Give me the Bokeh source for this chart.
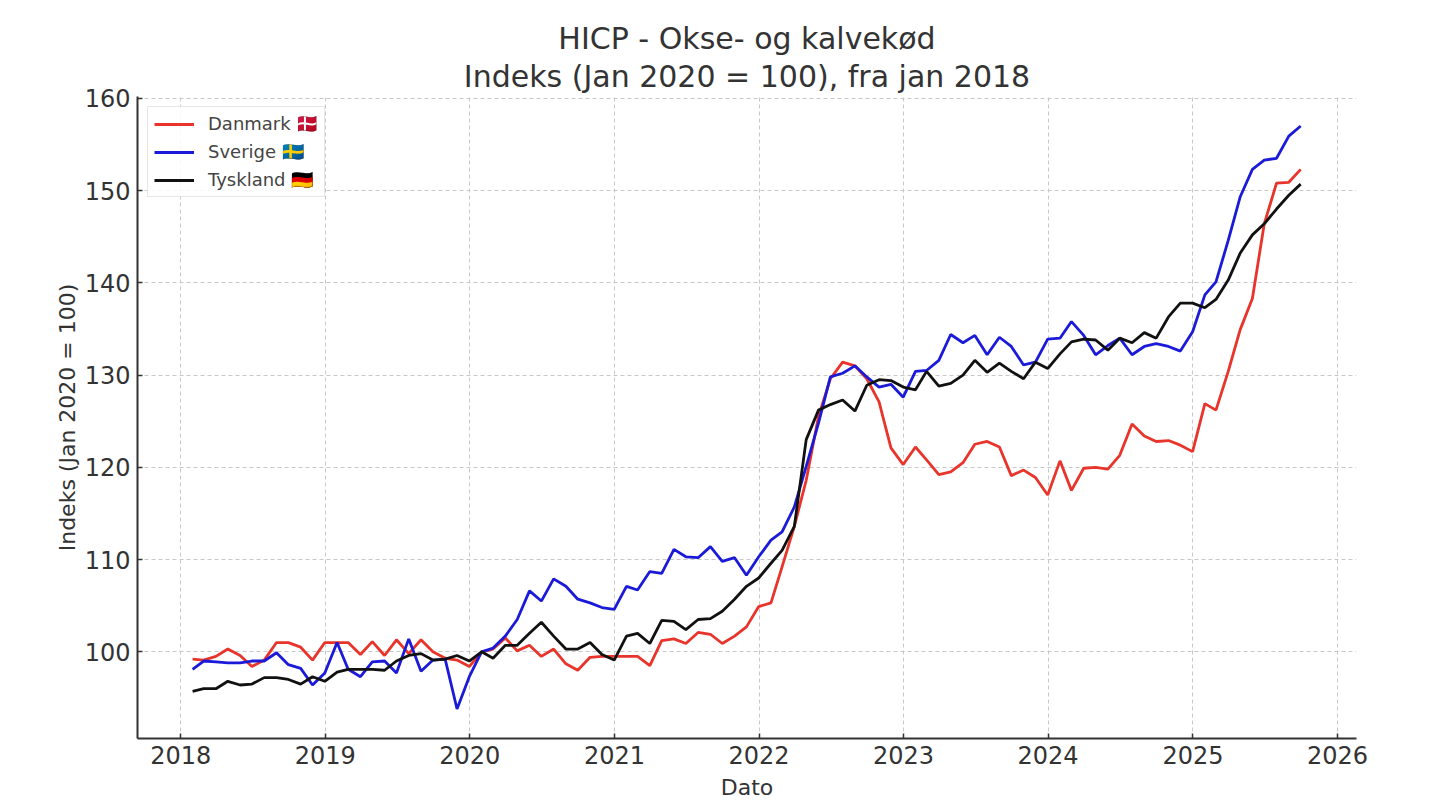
import datetime as dt
import pandas as pd
from bokeh.plotting import figure
from bokeh.models import (Title, Legend, LegendItem, FixedTicker,
                          DatetimeTickFormatter, Range1d, ColumnDataSource)
from bokeh.embed import file_html
from bokeh.resources import INLINE

# ---------------- data (monthly, Jan 2018 - Sep 2025) ----------------
dates = pd.date_range(start="2018-02-01", periods=93, freq="MS") - pd.Timedelta(days=1)

danmark = [99.2, 99.1, 99.5, 100.3, 99.6, 98.4, 99.1, 101.0, 101.0, 100.5,
           99.1, 101.0, 101.0, 101.0, 99.7, 101.1, 99.6, 101.3, 99.8, 101.3,
           100.0, 99.3, 99.1, 98.4, 100.0, 100.3, 101.5, 100.1, 100.7, 99.5,
           100.3, 98.7, 98.0, 99.4, 99.5, 99.5, 99.5, 99.5, 98.5, 101.2,
           101.4, 100.9, 102.1, 101.9, 100.9, 101.7, 102.7, 104.9, 105.3, 109.2,
           113.6, 118.6, 125.5, 129.6, 131.4, 131.0, 129.6, 127.1, 122.1, 120.3,
           122.2, 120.8, 119.2, 119.5, 120.5, 122.5, 122.8, 122.2, 119.1, 119.7,
           118.9, 117.0, 120.7, 117.5, 119.9, 120.0, 119.8, 121.3, 124.7, 123.4,
           122.8, 122.9, 122.4, 121.7, 126.9, 126.2, 130.4, 134.9, 138.3, 146.4,
           150.8, 150.9, 152.3]

sverige = [98.1, 99.0, 98.9, 98.8, 98.8, 99.0, 99.0, 99.9, 98.6, 98.2,
           96.4, 97.7, 101.0, 98.1, 97.3, 98.9, 99.0, 97.7, 101.4, 97.9,
           99.1, 99.2, 93.8, 97.3, 100.0, 100.4, 101.7, 103.5, 106.6, 105.5,
           107.9, 107.1, 105.7, 105.3, 104.8, 104.6, 107.1, 106.7, 108.7, 108.5,
           111.1, 110.3, 110.2, 111.4, 109.8, 110.2, 108.3, 110.3, 112.1, 113.0,
           115.7, 120.1, 124.8, 129.8, 130.2, 131.0, 129.8, 128.7, 129.0, 127.6,
           130.4, 130.5, 131.6, 134.4, 133.5, 134.3, 132.2, 134.1, 133.1, 131.1,
           131.4, 133.9, 134.0, 135.8, 134.3, 132.2, 133.2, 134.0, 132.2, 133.1,
           133.4, 133.1, 132.6, 134.7, 138.7, 140.1, 144.6, 149.3, 152.3, 153.3,
           153.5, 155.9, 157.0]

tyskland = [95.7, 96.0, 96.0, 96.8, 96.4, 96.5, 97.2, 97.2, 97.0, 96.5,
            97.3, 96.8, 97.8, 98.1, 98.1, 98.1, 98.0, 99.0, 99.6, 99.8,
            99.1, 99.2, 99.6, 99.0, 100.0, 99.3, 100.7, 100.7, 102.0, 103.2,
            101.7, 100.3, 100.3, 101.0, 99.7, 99.1, 101.7, 102.0, 100.9, 103.4,
            103.3, 102.4, 103.5, 103.6, 104.4, 105.7, 107.1, 108.0, 109.6, 111.0,
            113.6, 123.0, 126.2, 126.8, 127.3, 126.1, 128.9, 129.5, 129.4, 128.7,
            128.4, 130.4, 128.8, 129.1, 130.0, 131.6, 130.3, 131.3, 130.4, 129.6,
            131.4, 130.7, 132.3, 133.6, 133.9, 133.8, 132.7, 134.0, 133.5, 134.6,
            134.0, 136.3, 137.8, 137.8, 137.3, 138.2, 140.3, 143.2, 145.2, 146.4,
            148.0, 149.5, 150.7]

series_names = ["Danmark 🇩🇰", "Sverige 🇸🇪", "Tyskland 🇩🇪"]
series_colors = ["#e8342a", "#1a1ad8", "#111111"]
tick_years = [2018, 2019, 2020, 2021, 2022, 2023, 2024, 2025, 2026]

title_1 = "HICP - Okse- og kalvekød"
title_2 = "Indeks (Jan 2020 = 100), fra jan 2018"
x_label = "Dato"
y_label = "Indeks (Jan 2020 = 100)"


def frac_year_ms(y):
    year = int(y)
    start = dt.datetime(year, 1, 1)
    end = dt.datetime(year + 1, 1, 1)
    t = start + (end - start) * (y - year)
    return t.replace(tzinfo=dt.timezone.utc).timestamp() * 1000.0


src = ColumnDataSource(dict(date=dates, dk=danmark, se=sverige, de=tyskland))

FONT = "DejaVu Sans"
TXT = "#333333"

p = figure(width=1432, height=802, x_axis_type="datetime",
           output_backend="svg", toolbar_location=None, title=None,
           x_range=Range1d(frac_year_ms(2017.701), frac_year_ms(2026.1315)),
           y_range=Range1d(90.6, 160.2),
           min_border_left=137, min_border_right=76,
           min_border_top=96, min_border_bottom=62)

p.outline_line_color = None
p.background_fill_color = "white"
p.border_fill_color = "white"

# titles (added bottom line first; later ones stack above)
p.add_layout(Title(text=title_2, align="center", text_font=FONT,
                   text_font_size="30px", text_font_style="normal",
                   text_color=TXT, standoff=6), "above")
p.add_layout(Title(text=title_1, align="center", text_font=FONT,
                   text_font_size="30px", text_font_style="normal",
                   text_color=TXT, standoff=-5), "above")

# grid
for g in (p.xgrid, p.ygrid):
    g.grid_line_color = "#c8c8c8"
    g.grid_line_dash = "4 3"
    g.grid_line_width = 1

# axes
p.xaxis.ticker = FixedTicker(ticks=[frac_year_ms(y) for y in tick_years])
p.xaxis.formatter = DatetimeTickFormatter(years="%Y", months="%Y", days="%Y",
                                          hours="%Y", minutes="%Y",
                                          seconds="%Y", milliseconds="%Y")
p.yaxis.ticker = FixedTicker(ticks=[100, 110, 120, 130, 140, 150, 160])

for ax in (p.xaxis, p.yaxis):
    ax.axis_line_color = "#333333"
    ax.axis_line_width = 2
    ax.major_tick_line_color = "#333333"
    ax.major_tick_line_width = 1.5
    ax.major_tick_in = 5
    ax.major_tick_out = 0
    ax.minor_tick_line_color = None
    ax.major_label_text_font = FONT
    ax.major_label_text_font_size = "24px"
    ax.major_label_text_color = TXT
    ax.major_label_standoff = 7
    ax.axis_label_text_font = FONT
    ax.axis_label_text_font_size = "22px"
    ax.axis_label_text_font_style = "normal"
    ax.axis_label_text_color = TXT

p.xaxis.axis_label = x_label
p.yaxis.axis_label = y_label
p.xaxis.axis_label_standoff = 8
p.yaxis.axis_label_standoff = 2

r_dk = p.line("date", "dk", source=src, line_color=series_colors[0], line_width=2.8)
r_se = p.line("date", "se", source=src, line_color=series_colors[1], line_width=2.8)
r_de = p.line("date", "de", source=src, line_color=series_colors[2], line_width=2.8)

legend = Legend(items=[LegendItem(label=series_names[0], renderers=[r_dk]),
                       LegendItem(label=series_names[1], renderers=[r_se]),
                       LegendItem(label=series_names[2], renderers=[r_de])],
                location="top_left")
legend.margin = 10
legend.padding = 6
legend.spacing = 7
legend.glyph_width = 40
legend.glyph_height = 20
legend.label_height = 20
legend.label_standoff = 14
legend.label_text_font = FONT
legend.label_text_font_size = "18px"
legend.label_text_color = "#444444"
legend.border_line_color = "#d0d0d0"
legend.border_line_width = 1
legend.background_fill_color = "white"
legend.background_fill_alpha = 0.85
p.add_layout(legend, "center")

open("out.html", "w").write(file_html(p, INLINE))
